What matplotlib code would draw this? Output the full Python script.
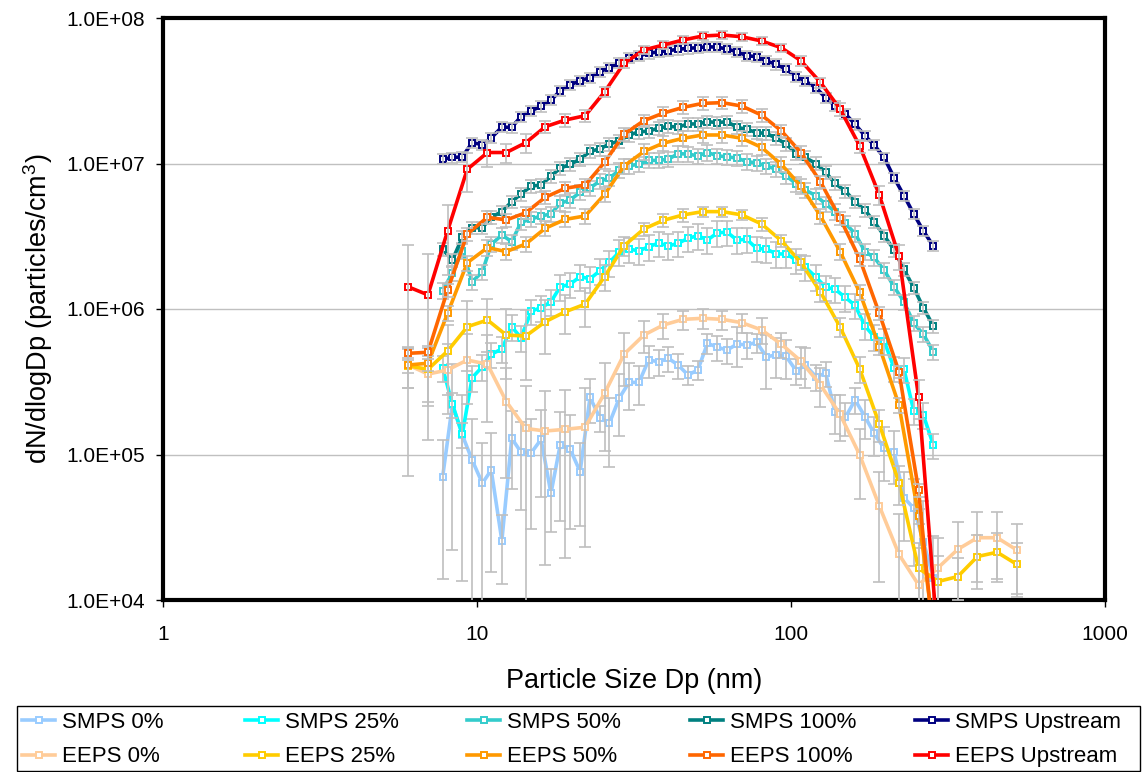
import numpy as np
import matplotlib
matplotlib.use('Agg')
import matplotlib.pyplot as plt
from matplotlib.ticker import FuncFormatter, NullLocator, FixedLocator
from matplotlib.patches import Rectangle

plt.rcParams['font.family'] = ['Liberation Sans', 'DejaVu Sans']
plt.rcParams['mathtext.fontset'] = 'custom'
plt.rcParams['mathtext.rm'] = 'Liberation Sans'

nan = np.nan

# particle sizes (nm)
smps_dp = [7.77, 8.35, 8.98, 9.65, 10.4, 11.1, 12.0, 12.9, 13.8, 14.9,
           16.0, 17.2, 18.4, 19.8, 21.3, 22.9, 24.6, 26.4, 28.4, 30.5,
           32.8, 35.2, 37.9, 40.7, 43.7, 47.0, 50.5, 54.2, 58.3, 62.6,
           67.3, 72.3, 77.7, 83.5, 89.8, 96.5, 104, 111, 120, 129,
           138, 149, 160, 172, 184, 198, 213, 229, 246, 264, 284]
eeps_dp = [6.04, 6.98, 8.06, 9.31, 10.8, 12.4, 14.3, 16.5, 19.1, 22.1,
           25.5, 29.4, 34.0, 39.2, 45.3, 52.3, 60.4, 69.8, 80.6, 93.1,
           107.5, 124.1, 143.3, 165.5, 191.1, 220.7, 254.8, 294.3, 339.8, 392.4,
           453.2, 523.3]

# dN/dlogDp values
smps_0 = [6.97e4, 2.2e5, 1.36e5, 9.16e4, 6.34e4, 7.82e4, 2.56e4, 1.29e5, 1.04e5, 1.03e5,
          1.27e5, 5.41e4, 1.16e5, 1.09e5, 7.62e4, 2.47e5, 1.79e5, 1.64e5, 2.45e5, 3.13e5,
          3.13e5, 4.46e5, 4.34e5, 4.58e5, 4.12e5, 3.52e5, 3.81e5, 5.81e5, 5.46e5, 5.22e5,
          5.74e5, 5.66e5, 5.90e5, 4.70e5, 4.83e5, 4.72e5, 3.75e5, 4.12e5, 3.43e5, 3.61e5,
          1.97e5, 1.80e5, 2.37e5, 1.82e5, 1.40e5, 1.10e5, 1.04e5, 5.05e4, 4.27e4, 2.52e4, 1.42e4]
smps_25 = [3.95e5, 2.21e5, 1.38e5, 3.37e5, 4.01e5, 4.89e5, 5.31e5, 7.55e5, 6.35e5, 9.68e5,
           1.02e6, 1.12e6, 1.42e6, 1.48e6, 1.67e6, 1.61e6, 1.83e6, 2.09e6, 2.47e6, 2.58e6,
           2.51e6, 2.68e6, 2.84e6, 2.71e6, 2.83e6, 3.06e6, 3.19e6, 2.98e6, 3.34e6, 3.37e6,
           2.98e6, 3.01e6, 2.61e6, 2.58e6, 2.39e6, 2.39e6, 2.17e6, 1.94e6, 1.66e6, 1.41e6,
           1.37e6, 1.20e6, 1.06e6, 7.64e5, 6.46e5, 6.03e5, 3.91e5, 3.85e5, 1.99e5, 1.87e5, 1.16e5]
smps_50 = [1.34e6, 1.77e6, 2.52e6, 1.54e6, 1.80e6, 2.78e6, 3.23e6, 2.90e6, 3.94e6, 4.16e6,
           4.36e6, 4.50e6, 5.33e6, 5.61e6, 6.34e6, 6.76e6, 7.59e6, 7.91e6, 9.02e6, 9.66e6,
           9.88e6, 1.05e7, 1.05e7, 1.07e7, 1.17e7, 1.16e7, 1.13e7, 1.19e7, 1.13e7, 1.11e7,
           1.09e7, 1.03e7, 1.01e7, 9.61e6, 9.12e6, 8.24e6, 7.23e6, 6.58e6, 6.01e6, 5.27e6,
           4.67e6, 3.87e6, 3.30e6, 2.48e6, 2.26e6, 1.85e6, 1.42e6, 1.12e6, 7.98e5, 6.70e5, 5.09e5]
smps_100 = [2.57e6, 2.17e6, 3.11e6, 3.62e6, 3.62e6, 4.27e6, 4.67e6, 5.46e6, 6.17e6, 7.00e6,
            7.11e6, 8.20e6, 9.27e6, 9.88e6, 1.07e7, 1.21e7, 1.26e7, 1.36e7, 1.43e7, 1.57e7,
            1.65e7, 1.67e7, 1.75e7, 1.80e7, 1.78e7, 1.87e7, 1.87e7, 1.94e7, 1.91e7, 1.94e7,
            1.77e7, 1.72e7, 1.63e7, 1.61e7, 1.49e7, 1.36e7, 1.17e7, 1.10e7, 1.00e7, 8.70e6,
            7.31e6, 6.47e6, 5.46e6, 4.79e6, 3.98e6, 3.19e6, 2.55e6, 1.87e6, 1.40e6, 1.02e6, 7.64e5]
smps_up = [1.07e7, 1.10e7, 1.11e7, 1.39e7, 1.35e7, 1.50e7, 1.78e7, 1.77e7, 2.10e7, 2.31e7,
           2.47e7, 2.73e7, 3.15e7, 3.47e7, 3.71e7, 3.89e7, 4.28e7, 4.55e7, 4.89e7, 5.31e7,
           5.51e7, 5.72e7, 5.86e7, 5.96e7, 6.10e7, 6.19e7, 6.25e7, 6.35e7, 6.30e7, 6.12e7,
           5.86e7, 5.51e7, 5.42e7, 5.06e7, 4.81e7, 4.44e7, 3.95e7, 3.69e7, 3.32e7, 2.83e7,
           2.50e7, 2.19e7, 1.86e7, 1.55e7, 1.34e7, 1.10e7, 7.98e6, 6.01e6, 4.50e6, 3.44e6, 2.71e6]

eeps_0 = [4.12e5, 3.57e5, 3.81e5, 4.46e5, 4.17e5, 2.31e5, 1.51e5, 1.45e5, 1.49e5, 1.54e5,
          2.64e5, 4.89e5, 6.62e5, 7.76e5, 8.49e5, 8.63e5, 8.49e5, 8.05e5, 7.18e5, 5.74e5,
          4.39e5, 3.01e5, 1.89e5, 9.93e4, 4.43e4, 2.06e4, 1.27e4, 1.67e4, 2.23e4, 2.68e4,
          2.68e4, 2.21e4]
eeps_25 = [4.07e5, 3.85e5, 5.14e5, 7.55e5, 8.40e5, 6.62e5, 6.52e5, 8.18e5, 9.57e5, 1.08e6,
           1.67e6, 2.72e6, 3.55e6, 4.07e6, 4.43e6, 4.67e6, 4.67e6, 4.43e6, 3.84e6, 2.95e6,
           2.09e6, 1.31e6, 7.52e5, 3.87e5, 1.62e5, 6.40e4, 1.65e4, 1.34e4, 1.45e4, 1.99e4,
           2.13e4, 1.76e4]
eeps_50 = [4.12e5, 4.24e5, 9.33e5, 2.08e6, 2.64e6, 2.48e6, 2.80e6, 3.59e6, 4.13e6, 4.36e6,
           6.14e6, 9.61e6, 1.21e7, 1.38e7, 1.49e7, 1.57e7, 1.57e7, 1.49e7, 1.29e7, 9.88e6,
           7.00e6, 4.36e6, 2.48e6, 1.30e6, 5.51e5, 2.19e5, 3.78e4, 3.5e3, nan, nan,
           nan, nan]
eeps_100 = [4.96e5, 5.04e5, 1.35e6, 3.28e6, 4.27e6, 4.09e6, 4.59e6, 5.86e6, 6.76e6, 7.11e6,
            1.02e7, 1.59e7, 1.97e7, 2.22e7, 2.43e7, 2.59e7, 2.62e7, 2.48e7, 2.15e7, 1.68e7,
            1.19e7, 7.50e6, 4.20e6, 2.21e6, 9.33e5, 3.71e5, 5.70e4, 2.5e3, nan, nan,
            nan, nan]
eeps_up = [1.42e6, 1.25e6, 3.44e6, 9.12e6, 1.19e7, 1.19e7, 1.39e7, 1.79e7, 1.99e7, 2.13e7,
           3.11e7, 4.89e7, 6.03e7, 6.52e7, 7.06e7, 7.52e7, 7.64e7, 7.43e7, 6.95e7, 6.25e7,
           5.09e7, 3.61e7, 2.37e7, 1.32e7, 6.08e6, 2.31e6, 2.49e5, 4.8e3, nan, nan,
           nan, nan]

# relative error bar sizes
smps_0_err = [0.8, 0.9, 0.9, 0.9, 0.9, 0.8, 0.5, 0.55, 0.6, 0.7,
              0.6, 0.46, 0.7, 0.72, 0.58, 0.33, 0.2, 0.5, 0.45, 0.35,
              0.3, 0.25, 0.2, 0.2, 0.2, 0.15, 0.15, 0.15, 0.2, 0.2,
              0.3, 0.2, 0.15, 0.4, 0.3, 0.3, 0.2, 0.3, 0.2, 0.2,
              0.3, 0.25, 0.2, 0.3, 0.3, 0.4, 0.4, 0.5, 0.6, 0.9, 0.95]
eeps_0_err = [0.3, 0.4, 0.5, 0.5, 0.6, 0.7, 0.95, 0.88, 0.87, 0.85,
              0.6, 0.4, 0.25, 0.2, 0.15, 0.15, 0.15, 0.15, 0.2, 0.2,
              0.25, 0.3, 0.35, 0.5, 0.7, 0.9, 0.8, 0.6, 0.55, 0.5,
              0.5, 0.5]
eeps_25_err = [0.3, 0.4, 0.5, 0.5, 0.4, 0.5, 0.5, 0.4, 0.3, 0.3,
               0.2, 0.15, 0.1, 0.1, 0.1, 0.08, 0.08, 0.08, 0.1, 0.1,
               0.12, 0.15, 0.15, 0.2, 0.25, 0.3, 0.5, 0.5, 0.35, 0.4,
               0.35, 0.4]
eeps_up_err = [0.95, 0.9, 0.5, 0.3, 0.2, 0.15, 0.15, 0.1, 0.1, 0.1,
               0.08, 0.08, 0.06, 0.06, 0.06, 0.06, 0.06, 0.06, 0.06, 0.06,
               0.08, 0.08, 0.1, 0.1, 0.15, 0.2, 0.3, 0.3, nan, nan,
               nan, nan]

labels = ['SMPS 0%', 'SMPS 25%', 'SMPS 50%', 'SMPS 100%', 'SMPS Upstream',
          'EEPS 0%', 'EEPS 25%', 'EEPS 50%', 'EEPS 100%', 'EEPS Upstream']
colors = ['#99CCFF', '#00FFFF', '#33CCCC', '#008080', '#000080',
          '#FFCC99', '#FFCC00', '#FF9900', '#FF6600', '#FF0000']
xs = [smps_dp] * 5 + [eeps_dp] * 5
ys = [smps_0, smps_25, smps_50, smps_100, smps_up,
      eeps_0, eeps_25, eeps_50, eeps_100, eeps_up]
errs = [smps_0_err, 0.2, 0.12, 0.1, 0.08,
        eeps_0_err, eeps_25_err, 0.12, 0.1, eeps_up_err]

W, H = 1142, 772
fig = plt.figure(figsize=(W / 100, H / 100), dpi=100)
ax = fig.add_axes([163 / W, 1 - 600 / H, (1105 - 163) / W, (600 - 18) / H])
ax.set_xscale('log')
ax.set_yscale('log')

handles = []
for i in range(10):
    y = np.asarray(ys[i], dtype=float)
    e = y * np.asarray(errs[i], dtype=float)
    z = 3 + i * 0.1
    ln, = ax.plot(xs[i], y, '-s', color=colors[i], lw=2.6, ms=5, mfc='white',
                  mec=colors[i], mew=1.4, label=labels[i], zorder=z)
    ax.errorbar(xs[i], y, yerr=e, fmt='none', ecolor='#BFBFBF', elinewidth=1.2,
                capsize=4, capthick=1.2, zorder=z + 0.05)
    handles.append(ln)

ax.set_xlim(1, 1000)
ax.set_ylim(1e4, 1e8)
ax.xaxis.set_major_locator(FixedLocator([1, 10, 100, 1000]))
ax.xaxis.set_major_formatter(FuncFormatter(lambda v, p: '%d' % round(v)))
ax.xaxis.set_minor_locator(NullLocator())
ax.yaxis.set_major_locator(FixedLocator([1e4, 1e5, 1e6, 1e7, 1e8]))
ax.yaxis.set_major_formatter(FuncFormatter(lambda v, p: '{:.1E}'.format(v)))
ax.yaxis.set_minor_locator(NullLocator())
ax.yaxis.grid(True, color='#C0C0C0', lw=1)
ax.set_axisbelow(True)
ax.tick_params(axis='both', direction='out', length=5, width=1, labelsize=15, pad=8)
ax.tick_params(axis='x', pad=13)
for s in ax.spines.values():
    s.set_linewidth(3)
ax.set_xlabel('Particle Size Dp (nm)', fontsize=19.5, labelpad=17)
ax.set_ylabel('dN/dlogDp (particles/cm$^{\\mathrm{3}}$)', fontsize=19.5, labelpad=8)

# legend: one small legend per column inside a single box
col_x = [22, 245, 467, 690, 915]
for j in range(5):
    fig.legend([handles[j], handles[j + 5]], [labels[j], labels[j + 5]],
               loc='upper left', bbox_to_anchor=(col_x[j] / W, 1 - 712 / H),
               frameon=False, fontsize=16, handlelength=1.5, handletextpad=0.3,
               labelspacing=0.6, borderpad=0, borderaxespad=0)
fig.add_artist(Rectangle((17 / W, 1 / H), 1123 / W, 65 / H, transform=fig.transFigure,
                         fill=False, ec='black', lw=1))

fig.savefig('out.png', dpi=100)
